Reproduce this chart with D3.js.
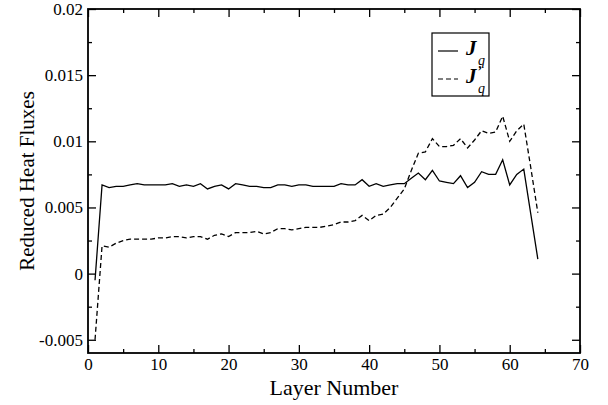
<!DOCTYPE html>
<html>
<head>
<meta charset="utf-8">
<script src="https://cdn.jsdelivr.net/npm/d3@7"></script>
<style>
    body { margin: 0; background: #fff; }
    svg text { font-family: "Liberation Serif", "Times New Roman", "DejaVu Serif", serif; }
</style>
</head>
<body>
<div id="chart"></div>
<script>
// layer index along the stack
const layers = [1, 2, 3, 4, 5, 6, 7, 8, 9, 10, 11, 12, 13, 14, 15, 16,
    17, 18, 19, 20, 21, 22, 23, 24, 25, 26, 27, 28, 29, 30, 31, 32,
    33, 34, 35, 36, 37, 38, 39, 40, 41, 42, 43, 44, 45, 46, 47, 48,
    49, 50, 51, 52, 53, 54, 55, 56, 57, 58, 59, 60, 61, 62, 63, 64];

// J_q (solid)
const jq = [-0.0005, 0.0067, 0.0065, 0.0066, 0.0066, 0.0067, 0.0068, 0.0067,
    0.0067, 0.0067, 0.0067, 0.0068, 0.0066, 0.0067, 0.0066, 0.0068,
    0.0064, 0.0066, 0.0067, 0.0064, 0.0068, 0.0067, 0.0066, 0.0066,
    0.0065, 0.0065, 0.0067, 0.0067, 0.0066, 0.0067, 0.0067, 0.0066,
    0.0066, 0.0066, 0.0066, 0.0068, 0.0067, 0.0067, 0.0071, 0.0066,
    0.0068, 0.0066, 0.0067, 0.0068, 0.0068, 0.0072, 0.0076, 0.0071,
    0.0078, 0.0070, 0.0069, 0.0068, 0.0074, 0.0065, 0.0069, 0.0077,
    0.0075, 0.0075, 0.0086, 0.0067, 0.0075, 0.0079, 0.0045, 0.0011];

// J'_q (dashed)
const jqp = [-0.005, 0.0021, 0.0020, 0.0023, 0.0025, 0.0026, 0.0026, 0.0026,
    0.0026, 0.0027, 0.0027, 0.0028, 0.0028, 0.0027, 0.0028, 0.0028,
    0.0026, 0.0029, 0.0030, 0.0028, 0.0031, 0.0031, 0.0031, 0.0032,
    0.0030, 0.0031, 0.0034, 0.0034, 0.0033, 0.0034, 0.0035, 0.0035,
    0.0035, 0.0036, 0.0037, 0.0039, 0.0039, 0.0040, 0.0044, 0.0040,
    0.0044, 0.0045, 0.0050, 0.0057, 0.0064, 0.0078, 0.0091, 0.0092,
    0.0102, 0.0096, 0.0096, 0.0097, 0.0102, 0.0095, 0.0101, 0.0108,
    0.0106, 0.0107, 0.0119, 0.0100, 0.0108, 0.0113, 0.0080, 0.0046];

const xTicks = [0, 10, 20, 30, 40, 50, 60, 70];
const xMinor = [5, 15, 25, 35, 45, 55, 65];
const yTicks = [-0.005, 0, 0.005, 0.01, 0.015, 0.02];
const yMinor = [-0.0025, 0.0025, 0.0075, 0.0125, 0.0175];

const width = 608,
    height = 405,
    margin = {top: 9, right: 28, bottom: 52, left: 88};
const iw = width - margin.left - margin.right,
    ih = height - margin.top - margin.bottom;
const serif = "'Liberation Serif', 'Times New Roman', 'DejaVu Serif', serif";

let svg = d3.select("#chart")
    .append("svg")
    .attr("width", width)
    .attr("height", height);

svg.append("rect").attr("width", width).attr("height", height).attr("fill", "#fff");

let g = svg.append("g")
    .attr("transform", `translate(${margin.left},${margin.top})`);

let x = d3.scaleLinear().domain([0, 70]).range([0, iw]);
let y = d3.scaleLinear().domain([-0.006, 0.02]).range([ih, 0]);

let fmt = d => String(+d.toFixed(4));

// major + minor ticks on all four sides, pointing inward
function axisSet(axisFn, scale, ticks, size, labels) {
    return axisFn(scale).tickValues(ticks).tickSizeInner(-size).tickSizeOuter(0)
        .tickPadding(labels ? 5 : 0)
        .tickFormat(labels ? fmt : "");
}

g.append("g").attr("transform", `translate(0,${ih})`)
    .call(axisSet(d3.axisBottom, x, xTicks, 8, true));
g.append("g").attr("transform", `translate(0,${ih})`)
    .call(axisSet(d3.axisBottom, x, xMinor, 4, false));
g.append("g").call(axisSet(d3.axisTop, x, xTicks, 8, false));
g.append("g").call(axisSet(d3.axisTop, x, xMinor, 4, false));

g.append("g").call(axisSet(d3.axisLeft, y, yTicks, 8, true));
g.append("g").call(axisSet(d3.axisLeft, y, yMinor, 4, false));
g.append("g").attr("transform", `translate(${iw},0)`)
    .call(axisSet(d3.axisRight, y, yTicks, 8, false));
g.append("g").attr("transform", `translate(${iw},0)`)
    .call(axisSet(d3.axisRight, y, yMinor, 4, false));

g.selectAll(".domain").remove();
g.selectAll("g").attr("font-family", serif);
g.selectAll(".tick line").attr("stroke", "#000").attr("stroke-width", 1.3);
g.selectAll(".tick text")
    .attr("fill", "#000")
    .attr("font-family", serif)
    .style("font-family", serif)
    .style("font-size", "17px");

g.append("rect")
    .attr("width", iw)
    .attr("height", ih)
    .attr("fill", "none")
    .attr("stroke", "#000")
    .attr("stroke-width", 1.8);

let line = d3.line()
    .x((d, i) => x(layers[i]))
    .y(d => y(d));

g.append("path")
    .datum(jq)
    .attr("d", line)
    .attr("fill", "none")
    .attr("stroke", "#000")
    .attr("stroke-width", 1.3);

g.append("path")
    .datum(jqp)
    .attr("d", line)
    .attr("fill", "none")
    .attr("stroke", "#000")
    .attr("stroke-width", 1.3)
    .attr("stroke-dasharray", "5,3");

// axis titles
svg.append("text")
    .attr("x", margin.left + iw / 2)
    .attr("y", 395)
    .attr("text-anchor", "middle")
    .style("font-family", serif)
    .style("font-size", "22px")
    .text("Layer Number");

svg.append("text")
    .attr("transform", `translate(34,${margin.top + ih / 2}) rotate(-90)`)
    .attr("text-anchor", "middle")
    .style("font-family", serif)
    .style("font-size", "21px")
    .text("Reduced Heat Fluxes");

// legend
let lg = svg.append("g").attr("transform", "translate(432,33)");
lg.append("rect")
    .attr("width", 57)
    .attr("height", 63)
    .attr("fill", "#fff")
    .attr("stroke", "#000")
    .attr("stroke-width", 1.2);

let items = [
    {dash: null, prime: false, yy: 18},
    {dash: "5,3", prime: true, yy: 46}
];
items.forEach(it => {
    lg.append("line")
        .attr("x1", 6).attr("x2", 26)
        .attr("y1", it.yy).attr("y2", it.yy)
        .attr("stroke", "#000")
        .attr("stroke-width", 1.2)
        .attr("stroke-dasharray", it.dash);
    lg.append("text")
        .attr("x", 34)
        .attr("y", it.yy + 4)
        .style("font-family", serif)
        .style("font-size", "21px")
        .style("font-style", "italic")
        .style("font-weight", "bold")
        .text("J");
    if (it.prime) {
        lg.append("text")
            .attr("x", 45)
            .attr("y", it.yy - 3)
            .style("font-family", serif)
            .style("font-size", "14px")
            .style("font-style", "italic")
            .style("font-weight", "bold")
            .text("’");
    }
    lg.append("text")
        .attr("x", 46)
        .attr("y", it.yy + 14)
        .style("font-family", serif)
        .style("font-size", "14px")
        .style("font-style", "italic")
        .text("q");
});
</script>
</body>
</html>
